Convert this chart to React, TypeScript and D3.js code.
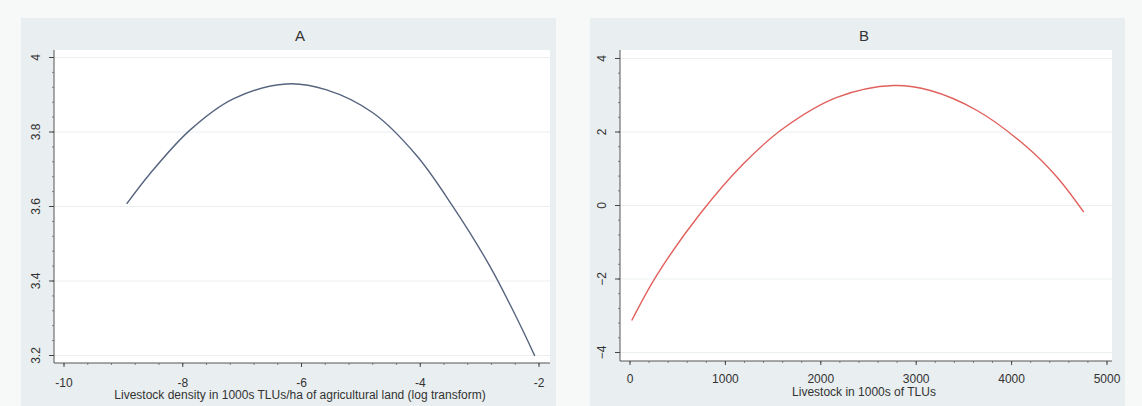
import React from "react";
import * as d3 from "d3";

// Panel A data: livestock density (log) vs predicted value
const densityLog = [-8.945, -8.552, -7.879, -7.15, -6.251, -5.577, -4.793, -4.062, -3.446, -2.828, -2.379, -2.071];
const predA = [3.607, 3.688, 3.805, 3.889, 3.929, 3.913, 3.851, 3.737, 3.599, 3.44, 3.302, 3.199];

// Panel B data: livestock in 1000s of TLUs vs predicted value
const livestock = [18, 280, 735, 1189, 1609, 2169, 2763, 3148, 3638, 4163, 4477, 4757];
const predB = [-3.13, -1.9, -0.226, 1.136, 2.102, 2.942, 3.265, 3.129, 2.585, 1.586, 0.77, -0.182];

const ticksAX = [-10, -8, -6, -4, -2];
const ticksAY = [3.2, 3.4, 3.6, 3.8, 4];
const ticksBX = [0, 1000, 2000, 3000, 4000, 5000];
const ticksBY = [-4, -2, 0, 2, 4];

const titleA = "A";
const titleB = "B";
const xLabelA = "Livestock density in 1000s TLUs/ha of agricultural land (log transform)";
const xLabelB = "Livestock in 1000s of TLUs";

const FONT = "'Liberation Sans', Arial, sans-serif";

type PanelProps = {
  box: [number, number, number, number];
  plot: [number, number, number, number];
  xDomain: [number, number];
  xRange: [number, number];
  yDomain: [number, number];
  yRange: [number, number];
  xTicks: number[];
  yTicks: number[];
  xMinorStep: number;
  yMinorStep: number;
  xs: number[];
  ys: number[];
  color: string;
  title: string;
  xLabel: string;
  tickBase: number;
  titleBase: number;
  fmtY: (v: number) => string;
};

function Panel(p: PanelProps) {
  const [bx0, by0, bx1, by1] = p.box;
  const [px0, py0, px1, py1] = p.plot;
  const x = d3.scaleLinear().domain(p.xDomain).range(p.xRange);
  const y = d3.scaleLinear().domain(p.yDomain).range(p.yRange);
  const pts = p.xs.map((v, i) => [v, p.ys[i]] as [number, number]);
  const line = d3
    .line<[number, number]>()
    .x((d) => x(d[0]))
    .y((d) => y(d[1]))
    .curve(d3.curveCatmullRom.alpha(0.5));
  const xMinor = d3.range(p.xDomain[0], p.xDomain[1] + p.xMinorStep / 2, p.xMinorStep);
  const yMinor = d3.range(p.yDomain[0], p.yDomain[1] + p.yMinorStep / 2, p.yMinorStep);
  const cx = (px0 + px1) / 2 - 2;
  return (
    <g>
      <rect x={bx0} y={by0} width={bx1 - bx0} height={by1 - by0} fill="#e9eef0" />
      <rect x={px0} y={py0} width={px1 - px0} height={py1 - py0} fill="#ffffff" />
      {p.yTicks.map((t) => (
        <line key={"g" + t} x1={px0} x2={px1} y1={y(t)} y2={y(t)} stroke="#eaeff1" strokeWidth={1} />
      ))}
      <path d={line(pts) || ""} fill="none" stroke={p.color} strokeWidth={1.4} />
      <line x1={px0} x2={px0} y1={py0} y2={py1} stroke="#555" strokeWidth={1} />
      <line x1={px0} x2={px1} y1={py1} y2={py1} stroke="#555" strokeWidth={1} />
      {yMinor.map((t, i) => (
        <line key={"ym" + i} x1={px0 - 2} x2={px0} y1={y(t)} y2={y(t)} stroke="#666" strokeWidth={0.8} />
      ))}
      {xMinor.map((t, i) => (
        <line key={"xm" + i} x1={x(t)} x2={x(t)} y1={py1} y2={py1 + 2} stroke="#666" strokeWidth={0.8} />
      ))}
      {p.yTicks.map((t) => (
        <g key={"yt" + t}>
          <line x1={px0 - 5} x2={px0} y1={y(t)} y2={y(t)} stroke="#444" strokeWidth={1} />
          <text
            transform={`translate(${px0 - 14},${y(t)}) rotate(-90)`}
            textAnchor="middle"
            fontFamily={FONT}
            fontSize={12}
            fill="#333"
          >
            {p.fmtY(t)}
          </text>
        </g>
      ))}
      {p.xTicks.map((t) => (
        <g key={"xt" + t}>
          <line x1={x(t)} x2={x(t)} y1={py1} y2={py1 + 4} stroke="#444" strokeWidth={1} />
          <text x={x(t)} y={p.tickBase} textAnchor="middle" fontFamily={FONT} fontSize={12} fill="#333">
            {t}
          </text>
        </g>
      ))}
      <text x={cx} y={p.titleBase} textAnchor="middle" fontFamily={FONT} fontSize={12} fill="#333">
        {p.xLabel}
      </text>
      <text x={cx} y={41} textAnchor="middle" fontFamily={FONT} fontSize={15} fill="#333">
        {p.title}
      </text>
    </g>
  );
}

export default function App() {
  return (
    <div style={{ position: "absolute", left: 0, top: 0, width: 1142, height: 406, overflow: "hidden" }}>
      <svg width={1142} height={406} style={{ display: "block" }}>
        <rect x={0} y={0} width={1142} height={406} fill="#f7f9f8" />
        <Panel
          box={[21, 18, 556, 410]}
          plot={[54, 50, 550, 363]}
          xDomain={[-10, -2]}
          xRange={[64, 539]}
          yDomain={[3.2, 4]}
          yRange={[355.5, 57.5]}
          xTicks={ticksAX}
          yTicks={ticksAY}
          xMinorStep={0.4}
          yMinorStep={0.04}
          xs={densityLog}
          ys={predA}
          color="#56647f"
          title={titleA}
          xLabel={xLabelA}
          tickBase={387}
          titleBase={399}
          fmtY={(v) => d3.format("~g")(v)}
        />
        <Panel
          box={[590, 18, 1125, 410]}
          plot={[620, 50, 1112, 361]}
          xDomain={[0, 5000]}
          xRange={[630, 1107]}
          yDomain={[-4, 4]}
          yRange={[352.5, 58.5]}
          xTicks={ticksBX}
          yTicks={ticksBY}
          xMinorStep={200}
          yMinorStep={0.4}
          xs={livestock}
          ys={predB}
          color="#e0605c"
          title={titleB}
          xLabel={xLabelB}
          tickBase={383}
          titleBase={396}
          fmtY={(v) => d3.format("~g")(v)}
        />
      </svg>
    </div>
  );
}
